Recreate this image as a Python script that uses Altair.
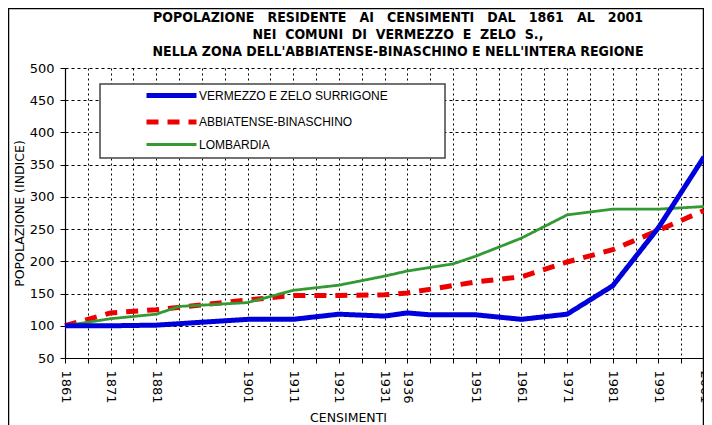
import altair as alt
import pandas as pd

# ---------------- data ----------------
title_lines = [
    "POPOLAZIONE  RESIDENTE  AI  CENSIMENTI  DAL  1861  AL  2001",
    "NEI  COMUNI  DI  VERMEZZO  E  ZELO  S.,",
    "NELLA  ZONA  DELL'ABBIATENSE-BINASCHINO  E  NELL'INTERA  REGIONE",
]
# word gap used when drawing each title line (visual spacing only)
title_gaps = [" \u00a0\u00a0", " \u00a0", " "]

series_names = ["VERMEZZO E ZELO SURRIGONE", "ABBIATENSE-BINASCHINO", "LOMBARDIA"]
series_colors = ["#0000dd", "#ee0000", "#339933"]

census_years = [1861, 1871, 1881, 1901, 1911, 1921, 1931, 1936, 1951, 1961, 1971, 1981, 1991, 2001]
grid_years = [1861, 1866, 1871, 1876, 1881, 1886, 1891, 1896, 1901, 1906, 1911, 1916, 1921, 1926,
              1931, 1936, 1941, 1946, 1951, 1956, 1961, 1966, 1971, 1976, 1981, 1986, 1991, 1996, 2001]
y_ticks = [50, 100, 150, 200, 250, 300, 350, 400, 450, 500]

vermezzo_years = [1861, 1871, 1881, 1901, 1911, 1921, 1931, 1936, 1941, 1951, 1961, 1971, 1981, 1991, 2001]
vermezzo_vals = [100, 100, 101, 110, 110, 118, 115, 120, 117, 117, 110, 118, 162, 252, 362]

abbiat_years = [1861, 1871, 1881, 1901, 1911, 1921, 1931, 1936, 1951, 1961, 1971, 1981, 1991, 2001]
abbiat_vals = [100, 120, 125, 140, 147, 147, 148, 151, 168, 176, 199, 218, 248, 279]

lomb_years = [1861, 1871, 1881, 1886, 1901, 1911, 1921, 1931, 1936, 1946, 1951, 1961, 1971, 1981, 1991, 2001]
lomb_vals = [100, 111, 118, 130, 136, 155, 163, 177, 185, 196, 208, 236, 272, 281, 281, 285]

# ---------------- table ----------------
rows = []
for name, yrs, vals in [
    (series_names[1], abbiat_years, abbiat_vals),
    (series_names[2], lomb_years, lomb_vals),
    (series_names[0], vermezzo_years, vermezzo_vals),
]:
    for a, v in zip(yrs, vals):
        rows.append({"serie": name, "anno": a, "valore": v})
df = pd.DataFrame(rows)

W, H = 639, 290
FONT_AX = "DejaVu Sans"

leg = alt.Legend(
    title=None, orient="none", legendX=79, legendY=20, direction="vertical",
    symbolType="M-5,0H5", symbolSize=100, symbolOffset=20, labelOffset=20,
    labelFont="Liberation Sans", labelFontSize=12, labelColor="black", labelLimit=400,
    rowPadding=5.5, padding=0,
)

census_js = ",".join(str(y) for y in census_years)

lines = alt.Chart(df).mark_line(clip=False).encode(
    x=alt.X(
        "anno:Q",
        scale=alt.Scale(domain=[1861, 2001], nice=False, zero=False),
        axis=alt.Axis(
            values=grid_years, format="d",
            labelExpr=f"indexof([{census_js}], datum.value) >= 0 ? format(datum.value, 'd') : ''",
            labelAngle=90, labelFont=FONT_AX, labelFontSize=13, labelColor="black",
            labelPadding=7, labelOverlap=False, labelFlush=False,
            tickSize=5, tickColor="black", domainColor="black", domainWidth=1.2,
            grid=True, gridColor="black", gridDash=[2, 3], gridOpacity=1, gridWidth=1,
            title="CENSIMENTI", titleFont=FONT_AX, titleFontSize=12.5, titleFontWeight="normal",
            titleColor="black", titleX=283, titleY=63, titleBaseline="alphabetic",
        ),
    ),
    y=alt.Y(
        "valore:Q",
        scale=alt.Scale(domain=[50, 500], nice=False, zero=False),
        axis=alt.Axis(
            values=y_ticks, labelFont=FONT_AX, labelFontSize=13, labelColor="black",
            labelPadding=6, tickSize=5, tickColor="black", domainColor="black", domainWidth=1.2,
            grid=True, gridColor="black", gridDash=[3, 3], gridOpacity=1, gridWidth=1,
            title="POPOLAZIONE  (INDICE)", titleFont=FONT_AX, titleFontSize=12.5,
            titleFontWeight="normal", titleColor="black", titleX=-46, titleY=145,
            titleBaseline="middle", titleAlign="center",
        ),
    ),
    color=alt.Color("serie:N", scale=alt.Scale(domain=series_names, range=series_colors), legend=leg),
    strokeDash=alt.StrokeDash("serie:N", scale=alt.Scale(domain=series_names, range=[[1, 0], [12, 9], [1, 0]]), legend=leg),
    strokeWidth=alt.StrokeWidth("serie:N", scale=alt.Scale(type="ordinal", domain=series_names, range=[5, 5, 2.8]), legend=leg),
)

one = pd.DataFrame({"k": [0]})

border = alt.Chart(one).mark_rect(fill="transparent", stroke="black", strokeWidth=1.5).encode(
    x=alt.value(-56.5), x2=alt.value(638.5), y=alt.value(-59.5), y2=alt.value(380)
)

legend_box = alt.Chart(one).mark_rect(fill="white", stroke="#444444", strokeWidth=1.5).encode(
    x=alt.value(35), x2=alt.value(380), y=alt.value(16), y2=alt.value(90)
)

title_df = pd.DataFrame({"t": ["\n".join(l.replace("  ", g) for l, g in zip(title_lines, title_gaps))]})
title_text = alt.Chart(title_df).mark_text(
    align="center", baseline="alphabetic", font="Liberation Sans Narrow, DejaVu Sans Condensed, sans-serif",
    fontSize=14, fontWeight="bold", lineBreak="\n", lineHeight=17, color="black",
).encode(text="t:N", x=alt.value(333), y=alt.value(-46))

chart = alt.layer(border, legend_box, lines, title_text).properties(
    width=W, height=H,
    autosize=alt.AutoSizeParams(type="none"),
    padding={"left": 57, "top": 60, "right": 0, "bottom": 67},
).configure_view(stroke=None)

chart.save("out.html", embed_options={"renderer": "svg", "actions": False})
